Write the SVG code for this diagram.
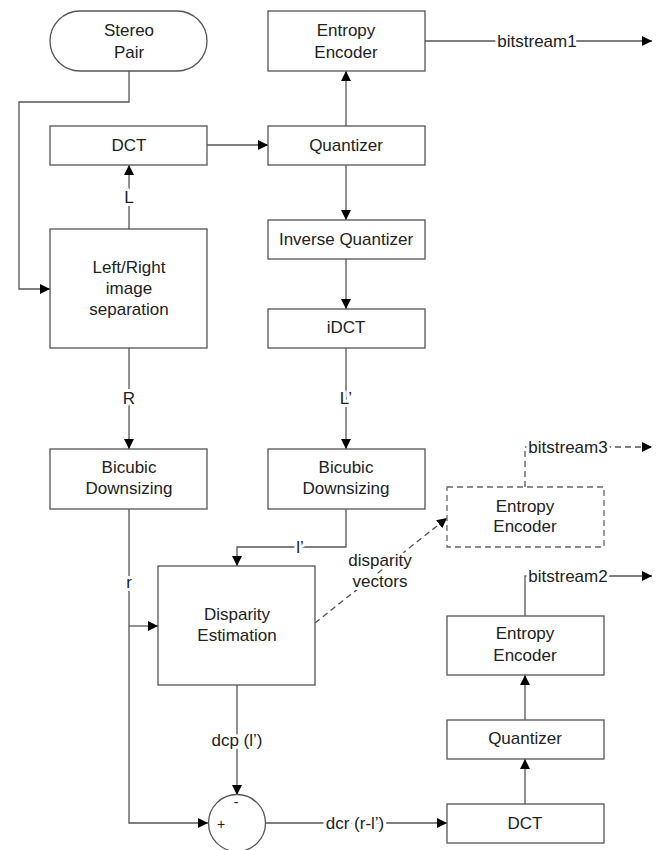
<svg xmlns="http://www.w3.org/2000/svg" width="664" height="850" viewBox="0 0 664 850">
<defs>
<marker id="ah" viewBox="0 0 10 10" refX="10" refY="5" markerWidth="10" markerHeight="10" markerUnits="userSpaceOnUse" orient="auto">
<path d="M0,0 L10,5 L0,10 Z" fill="#000"/>
</marker>
</defs>
<style>
.box{fill:#fff;stroke:#555;stroke-width:1.3}
.dbox{fill:#fff;stroke:#666;stroke-width:1.3;stroke-dasharray:6 4}
.t{font-family:"Liberation Sans",Arial,sans-serif;font-size:17px;fill:#222;text-anchor:middle}
.lbl{font-family:"Liberation Sans",Arial,sans-serif;font-size:17px;fill:#222;text-anchor:middle;stroke:#fff;stroke-width:6px;paint-order:stroke;stroke-linejoin:round}
.c{fill:none;stroke:#555;stroke-width:1.3}
.d{fill:none;stroke:#555;stroke-width:1.3;stroke-dasharray:6 4}
</style>
<rect width="664" height="850" fill="#fff"/>
<g id="connectors">
<polyline class="c" points="129,71 129,102 19,102 19,289 50,289" marker-end="url(#ah)"/>
<line class="c" x1="129" y1="229" x2="129" y2="165" marker-end="url(#ah)"/>
<line class="c" x1="207" y1="145" x2="268" y2="145" marker-end="url(#ah)"/>
<line class="c" x1="346" y1="126" x2="346" y2="71" marker-end="url(#ah)"/>
<line class="c" x1="425" y1="41" x2="652" y2="41" marker-end="url(#ah)"/>
<line class="c" x1="346" y1="165" x2="346" y2="220" marker-end="url(#ah)"/>
<line class="c" x1="346" y1="259" x2="346" y2="309" marker-end="url(#ah)"/>
<line class="c" x1="346" y1="348" x2="346" y2="449" marker-end="url(#ah)"/>
<line class="c" x1="129" y1="348" x2="129" y2="449" marker-end="url(#ah)"/>
<polyline class="c" points="346,509 346,547 237,547 237,566" marker-end="url(#ah)"/>
<polyline class="c" points="129,509 129,823 208,823" marker-end="url(#ah)"/>
<line class="c" x1="129" y1="626" x2="158" y2="626" marker-end="url(#ah)"/>
<line class="c" x1="237" y1="685" x2="237" y2="795" marker-end="url(#ah)"/>
<line class="c" x1="265" y1="823" x2="447" y2="823" marker-end="url(#ah)"/>
<line class="c" x1="525" y1="804" x2="525" y2="759" marker-end="url(#ah)"/>
<line class="c" x1="525" y1="720" x2="525" y2="675" marker-end="url(#ah)"/>
<polyline class="c" points="525,616 525,576 652,576" marker-end="url(#ah)"/>
<polyline class="d" points="525,487 525,447 652,447" marker-end="url(#ah)"/>
<line class="d" x1="315" y1="623" x2="447" y2="518" marker-end="url(#ah)"/>
<text class="lbl" x="129" y="203">L</text>
<text class="lbl" x="129" y="404">R</text>
<text class="lbl" x="346" y="404">L’</text>
<text class="lbl" x="129" y="588">r</text>
<text class="lbl" x="300" y="553">l’</text>
<text class="lbl" x="237" y="746">dcp (l’)</text>
<text class="lbl" x="355" y="829">dcr (r-l’)</text>
<text class="lbl" x="380" y="566">disparity</text>
<text class="lbl" x="380" y="587">vectors</text>
<text class="lbl" x="537" y="47">bitstream1</text>
<text class="lbl" x="568" y="453">bitstream3</text>
<text class="lbl" x="568" y="582">bitstream2</text>
</g>
<g id="stereo-pair">
<rect class="box" x="50" y="11" width="157" height="60" rx="30" ry="30"/>
<text class="t" x="129" y="36">Stereo</text>
<text class="t" x="129" y="58">Pair</text>
</g>
<g id="entropy-encoder-1">
<rect class="box" x="268" y="11" width="157" height="60"/>
<text class="t" x="346" y="36">Entropy</text>
<text class="t" x="346" y="58">Encoder</text>
</g>
<g id="dct-1">
<rect class="box" x="50" y="126" width="157" height="39"/>
<text class="t" x="129" y="151">DCT</text>
</g>
<g id="quantizer-1">
<rect class="box" x="268" y="126" width="157" height="39"/>
<text class="t" x="346" y="151">Quantizer</text>
</g>
<g id="inverse-quantizer">
<rect class="box" x="268" y="220" width="157" height="39"/>
<text class="t" x="346" y="245">Inverse Quantizer</text>
</g>
<g id="idct">
<rect class="box" x="268" y="309" width="157" height="39"/>
<text class="t" x="346" y="333">iDCT</text>
</g>
<g id="lr-separation">
<rect class="box" x="50" y="229" width="157" height="119"/>
<text class="t" x="129" y="273">Left/Right</text>
<text class="t" x="129" y="294">image</text>
<text class="t" x="129" y="315">separation</text>
</g>
<g id="bicubic-left">
<rect class="box" x="50" y="449" width="157" height="60"/>
<text class="t" x="129" y="473">Bicubic</text>
<text class="t" x="129" y="494">Downsizing</text>
</g>
<g id="bicubic-right">
<rect class="box" x="268" y="449" width="157" height="60"/>
<text class="t" x="346" y="473">Bicubic</text>
<text class="t" x="346" y="494">Downsizing</text>
</g>
<g id="disparity-estimation">
<rect class="box" x="158" y="566" width="157" height="119"/>
<text class="t" x="237" y="620">Disparity</text>
<text class="t" x="237" y="641">Estimation</text>
</g>
<g id="entropy-encoder-3">
<rect class="dbox" x="447" y="487" width="157" height="60"/>
<text class="t" x="525" y="512">Entropy</text>
<text class="t" x="525" y="532">Encoder</text>
</g>
<g id="entropy-encoder-2">
<rect class="box" x="447" y="616" width="157" height="59"/>
<text class="t" x="525" y="639">Entropy</text>
<text class="t" x="525" y="661">Encoder</text>
</g>
<g id="quantizer-2">
<rect class="box" x="447" y="720" width="157" height="39"/>
<text class="t" x="525" y="744">Quantizer</text>
</g>
<g id="dct-2">
<rect class="box" x="447" y="804" width="157" height="39"/>
<text class="t" x="525" y="829">DCT</text>
</g>
<g id="subtractor">
<circle class="box" cx="237" cy="823" r="28.5"/>
<text class="t" x="236" y="807" style="font-size:14px">-</text>
<text class="t" x="221" y="829" style="font-size:14px">+</text>
</g>
</svg>
